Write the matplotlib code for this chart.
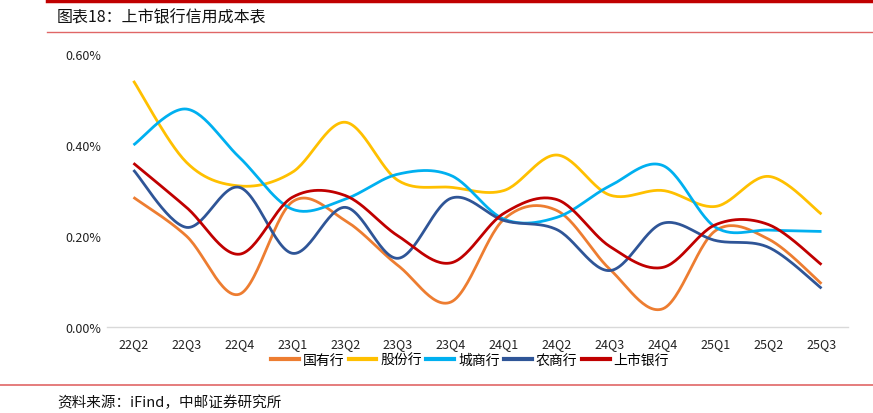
import numpy as np
import matplotlib
matplotlib.use("Agg")
import matplotlib.pyplot as plt
from matplotlib.lines import Line2D
from matplotlib.ticker import FuncFormatter

plt.rcParams['font.family'] = ['Noto Sans CJK SC', 'DejaVu Sans']

quarters = ['22Q2', '22Q3', '22Q4', '23Q1', '23Q2', '23Q3', '23Q4',
            '24Q1', '24Q2', '24Q3', '24Q4', '25Q1', '25Q2', '25Q3']

# credit cost, %
state_owned = [0.285, 0.200, 0.072, 0.275, 0.234, 0.135, 0.055,
               0.237, 0.256, 0.127, 0.040, 0.212, 0.193, 0.095]
joint_stock = [0.541, 0.362, 0.310, 0.340, 0.450, 0.322, 0.307,
               0.300, 0.378, 0.290, 0.300, 0.265, 0.331, 0.248]
city_comm = [0.400, 0.479, 0.373, 0.259, 0.281, 0.336, 0.333,
             0.237, 0.241, 0.310, 0.355, 0.219, 0.213, 0.210]
rural_comm = [0.345, 0.219, 0.307, 0.162, 0.263, 0.151, 0.283,
              0.234, 0.214, 0.124, 0.228, 0.190, 0.175, 0.085]
listed = [0.360, 0.263, 0.160, 0.285, 0.289, 0.200, 0.141,
          0.250, 0.280, 0.177, 0.131, 0.225, 0.225, 0.137]

series = [
    ('国有行', state_owned, '#ED7D31'),
    ('股份行', joint_stock, '#FFC000'),
    ('城商行', city_comm, '#00B0F0'),
    ('农商行', rural_comm, '#2F5597'),
    ('上市银行', listed, '#C00000'),
]


def smooth(xs, ys, n=30):
    """Excel-like smoothed line: cubic Bezier through each point."""
    xs = np.asarray(xs, float)
    ys = np.asarray(ys, float)
    px = np.concatenate([[xs[0]], xs, [xs[-1]]])
    py = np.concatenate([[ys[0]], ys, [ys[-1]]])
    out_x, out_y = [], []
    t = np.linspace(0, 1, n)
    for i in range(1, len(px) - 2):
        p0 = np.array([px[i], py[i]])
        p3 = np.array([px[i + 1], py[i + 1]])
        p1 = p0 + (np.array([px[i + 1], py[i + 1]]) - np.array([px[i - 1], py[i - 1]])) / 6
        p2 = p3 - (np.array([px[i + 2], py[i + 2]]) - np.array([px[i], py[i]])) / 6
        b = ((1 - t) ** 3)[:, None] * p0 + (3 * (1 - t) ** 2 * t)[:, None] * p1 \
            + (3 * (1 - t) * t ** 2)[:, None] * p2 + (t ** 3)[:, None] * p3
        out_x.extend(b[:, 0])
        out_y.extend(b[:, 1])
    return out_x, out_y


fig = plt.figure(figsize=(8.73, 4.14), dpi=100)
ax = fig.add_axes([107 / 873, 1 - 328 / 414, (848 - 107) / 873, (328 - 55) / 414])

x = np.arange(len(quarters))
handles = []
for name, vals, color in series:
    sx, sy = smooth(x, vals)
    ax.plot(sx, sy, color=color, lw=2.0, solid_capstyle='butt')
    handles.append(Line2D([], [], color=color, lw=3, label=name))

ax.set_xlim(-0.5, len(quarters) - 0.5)
ax.set_ylim(0, 0.6)
ax.set_yticks([0, 0.2, 0.4, 0.6])
ax.yaxis.set_major_formatter(FuncFormatter(lambda v, p: f'{v:.2f}%'))
ax.set_xticks(x)
ax.set_xticklabels(quarters)
ax.tick_params(axis='both', length=0, labelsize=9, colors='#222222')
ax.tick_params(axis='x', pad=7)
ax.tick_params(axis='y', pad=4)
for s in ['top', 'right', 'left']:
    ax.spines[s].set_visible(False)
ax.spines['bottom'].set_color('#D9D9D9')
ax.spines['bottom'].set_linewidth(1)

fig.legend(handles=handles, loc='center', bbox_to_anchor=(470 / 873, 1 - 361 / 414),
           ncol=5, frameon=False, fontsize=10, handlelength=2.0, handletextpad=0.3,
           columnspacing=0.3)

# title, rules and source
fig.add_artist(Line2D([47 / 873, 1], [1 - 2 / 414] * 2, color='#C00000', lw=2.5))
fig.add_artist(Line2D([47 / 873, 1], [1 - 33 / 414] * 2, color='#E06666', lw=1))
fig.add_artist(Line2D([0, 1], [1 - 386 / 414] * 2, color='#E06666', lw=1.2))
fig.text(57 / 873, 1 - 18 / 414, '图表18：上市银行信用成本表', fontsize=11.5,
         va='center', ha='left', color='#111111')
fig.text(57 / 873, 1 - 403 / 414, '资料来源：iFind，中邮证券研究所', fontsize=10.5,
         va='center', ha='left', color='#111111')

fig.savefig('out.png', dpi=100)
